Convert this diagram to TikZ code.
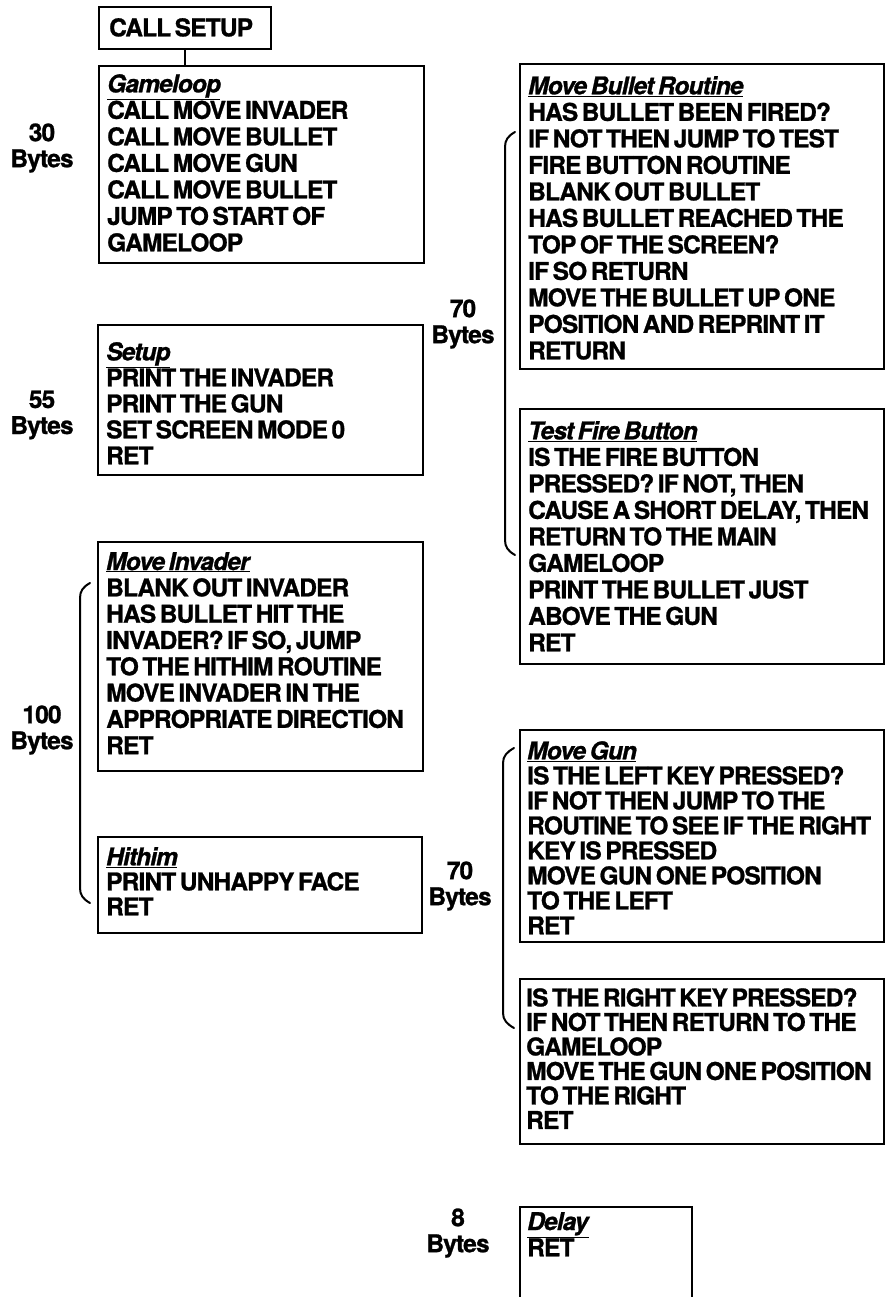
\documentclass[tikz,border=0pt]{standalone}
\usepackage{fontspec}
\setmainfont{TeX Gyre Heros}[LetterSpace=-3.5,WordSpace=0.6,FakeBold=1]
\usetikzlibrary{positioning}

\tikzset{
  routine/.style={draw,line width=2pt,anchor=north west,inner sep=0pt},
  txt/.style={anchor=north west,align=left,inner sep=0pt,xshift=9pt,yshift=-#1,
    font=\bfseries\fontsize{24.5}{26.5}\selectfont},
  txt/.default=12pt,
  bytes/.style={align=center,font=\bfseries\fontsize{24.5}{26}\selectfont},
  bracket/.style={line width=2pt,line cap=round}
}
\newcommand{\rname}[1]{\underline{\textit{#1}}}

\begin{document}
\begin{tikzpicture}[x=1pt,y=-1pt]
  \def\lw{325pt} % left column
  \def\rw{364pt} % right column
  \useasboundingbox (0,0) rectangle (890,1297);
  \clip (0,0) rectangle (890,1297);

  % left column
  \node[routine,minimum width=172pt,minimum height=42pt,
    label={[txt=12pt,xshift=2pt]north west:{CALL SETUP}}] (callsetup) at (98,6) {};
  \node[routine,minimum width=\lw,minimum height=197pt,
    label={[txt=9pt]north west:{\rname{Gameloop}\\CALL MOVE INVADER\\CALL MOVE BULLET\\CALL MOVE GUN\\CALL MOVE BULLET\\JUMP TO START OF\\GAMELOOP}}] (gameloop) at (98,65) {};
  \draw[line width=2pt] (callsetup.south) -- (callsetup.south |- gameloop.north);
  \node[routine,minimum width=\lw,minimum height=150pt,
    label={[txt=18pt,font=\bfseries\fontsize{24.5}{26}\selectfont]north west:{\rname{Setup}\\PRINT THE INVADER\\PRINT THE GUN\\SET SCREEN MODE 0\\RET}}] (setup) at (97,324) {};
  \node[routine,minimum width=\lw,minimum height=229pt,
    label={[txt=11pt,font=\bfseries\fontsize{24.5}{26.3}\selectfont]north west:{\rname{Move Invader}\\BLANK OUT INVADER\\HAS BULLET HIT THE\\INVADER? IF SO, JUMP\\TO THE HITHIM ROUTINE\\MOVE INVADER IN THE\\APPROPRIATE DIRECTION\\RET}}] (moveinvader) at (97,541) {};
  \node[routine,minimum width=324pt,minimum height=96pt,
    label={[txt=11pt,font=\bfseries\fontsize{24.5}{25}\selectfont]north west:{\rname{Hithim}\\PRINT UNHAPPY FACE\\RET}}] (hithim) at (97,836) {};

  % right column
  \node[routine,minimum width=\rw,minimum height=305pt,
    label={[txt=13pt]north west:{\rname{Move Bullet Routine}\\HAS BULLET BEEN FIRED?\\IF NOT THEN JUMP TO TEST\\FIRE BUTTON ROUTINE\\BLANK OUT BULLET\\HAS BULLET REACHED THE\\TOP OF THE SCREEN?\\IF SO RETURN\\MOVE THE BULLET UP ONE\\POSITION AND REPRINT IT\\RETURN}}] (movebullet) at (519,63) {};
  \node[routine,minimum width=\rw,minimum height=255pt,
    label={[txt=13pt]north west:{\rname{Test Fire Button}\\IS THE FIRE BUTTON\\PRESSED? IF NOT, THEN\\CAUSE A SHORT DELAY, THEN\\RETURN TO THE MAIN\\GAMELOOP\\PRINT THE BULLET JUST\\ABOVE THE GUN\\RET}}] (testfire) at (519,408) {};
  \node[routine,minimum width=\rw,minimum height=212pt,
    label={[txt=12pt,xshift=-1pt,font=\bfseries\fontsize{24.5}{25}\selectfont]north west:{\rname{Move Gun}\\IS THE LEFT KEY PRESSED?\\IF NOT THEN JUMP TO THE\\ROUTINE TO SEE IF THE RIGHT\\KEY IS PRESSED\\MOVE GUN ONE POSITION\\TO THE LEFT\\RET}}] (movegun) at (519,729) {};
  \node[routine,minimum width=\rw,minimum height=165pt,
    label={[txt=10pt,xshift=-2pt,font=\bfseries\fontsize{24.5}{24.5}\selectfont]north west:{IS THE RIGHT KEY PRESSED?\\IF NOT THEN RETURN TO THE\\GAMELOOP\\MOVE THE GUN ONE POSITION\\TO THE RIGHT\\RET}}] (rightkey) at (519,978) {};
  \node[routine,minimum width=172pt,minimum height=130pt,
    label={[txt=6pt,xshift=-1pt,font=\bfseries\fontsize{24.5}{25}\selectfont]north west:{\rname{Delay}\\RET}}] (delay) at (519,1206) {};

  % sizes
  \node[bytes] (b30) at (42,148) {30\\Bytes};
  \node[bytes] (b55) at (42,415) {55\\Bytes};
  \node[bytes] (b100) at (42,730) {100\\Bytes};
  \node[bytes] (b70a) at (463,324) {70\\Bytes};
  \node[bytes] (b70b) at (460,886) {70\\Bytes};
  \node[bytes] (b8) at (458,1233) {8\\Bytes};

  \draw[bracket] (90,583) .. controls (83,587) and (80,591) .. (80,598) -- (80,888)
    .. controls (80,895) and (83,899) .. (90,903);
  \draw[bracket] (515,132) .. controls (508,136) and (505,140) .. (505,147) -- (505,540)
    .. controls (505,547) and (508,551) .. (515,555);
  \draw[bracket] (514,748) .. controls (507,752) and (503,756) .. (503,763) -- (503,1013)
    .. controls (503,1020) and (507,1024) .. (514,1028);
\end{tikzpicture}
\end{document}
